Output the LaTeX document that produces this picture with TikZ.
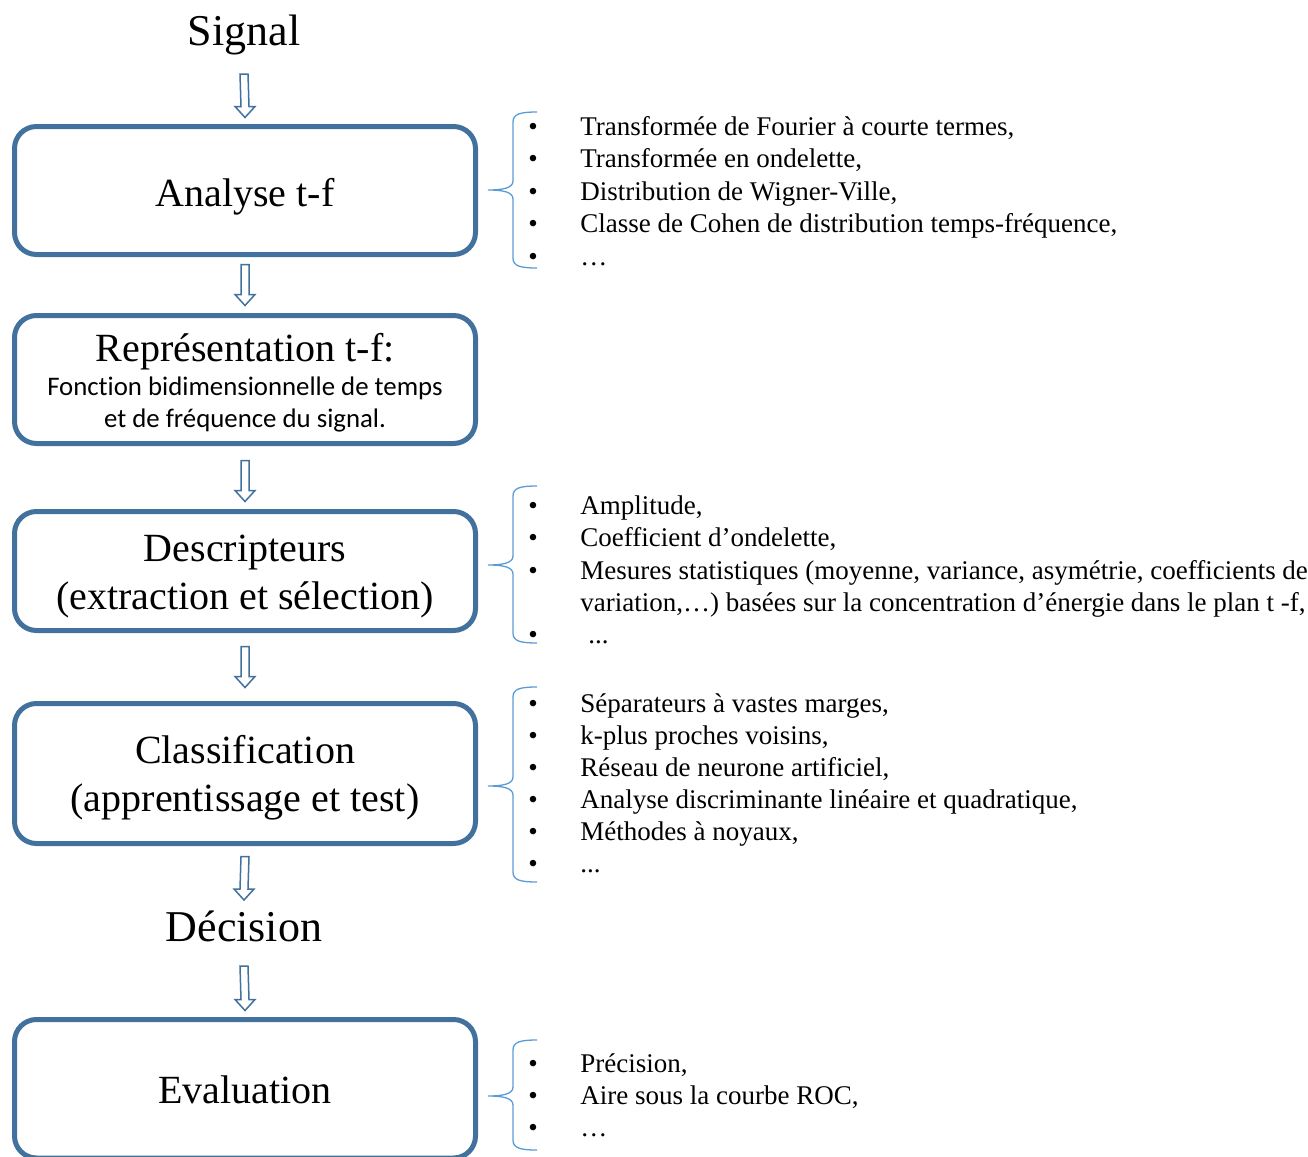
\documentclass[tikz,border=0pt]{standalone}
\usepackage{fontspec}
\setmainfont{Liberation Serif}
\newfontfamily\calibri[Ligatures=NoCommon]{Carlito}
\usetikzlibrary{calc}

\definecolor{cadre}{RGB}{65,113,156}
\definecolor{bleuclair}{RGB}{91,155,213}

\tikzset{
  etape/.style={draw=cadre, line width=2.5pt, rounded corners=11pt,
    minimum width=230.5pt, inner sep=0pt},
  etiq/.style={anchor=base, inner sep=0pt, font=\fontsize{20}{24}\selectfont},
  sous/.style={anchor=base, inner sep=0pt, font=\calibri\fontsize{13.4}{16}\selectfont},
  titre/.style={anchor=base, inner sep=0pt, font=\fontsize{22}{26}\selectfont},
  fleche/.style={draw=cadre, line width=0.75pt, fill=white},
  accolade/.style={draw=bleuclair, line width=0.65pt},
  puce/.style={anchor=base, inner sep=0pt, font=\fontsize{13.5}{16}\selectfont},
  liste/.style={anchor=base west, inner sep=0pt, font=\fontsize{13.5}{16}\selectfont},
}

% hollow block arrow between two nodes (#3, #4 = gaps in px)
\newcommand{\flechebloc}[4]{%
  \draw[fleche] ($(#1)+(-4,#3)$) -- ($(#2)+(-4,-#4-11)$) -- ($(#2)+(-10,-#4-11)$)
    -- ($(#2)+(0,-#4)$) -- ($(#2)+(10,-#4-11)$) -- ($(#2)+(4,-#4-11)$)
    -- ($(#1)+(4,#3)$) -- cycle;}

% curly brace: top, middle, bottom
\newcommand{\accoladeb}[3]{%
  \draw[accolade] (537,#1) .. controls (520,#1) and (513,#1+2) .. (513,#1+10)
    -- (513,#2-9) .. controls (513,#2-2) and (503,#2) .. (488,#2)
    .. controls (503,#2) and (513,#2+2) .. (513,#2+9)
    -- (513,#3-10) .. controls (513,#3-2) and (520,#3) .. (537,#3);}

\begin{document}
\begin{tikzpicture}[x=0.5pt, y=-0.5pt]
  \useasboundingbox (0,0) rectangle (1308,1157);

  % chain of steps
  \node[titre] (sig) at (244,45) {Signal};
  \node[etape, minimum height=64pt] (ana) at (245,190.5) {};
  \node[etape, minimum height=64pt] (rep) at (245,379.5) {};
  \node[etape, minimum height=59.5pt] (des) at (245,571) {};
  \node[etape, minimum height=70pt] (cla) at (245,773.5) {};
  \node[titre] (dec) at (244,941) {Décision};
  \node[etape, minimum height=69.25pt] (eva) at (245,1088.75) {};

  \node[etiq] (ana-t) at ($(ana.center)+(0,16)$) {Analyse t-f};
  \node[etiq] (rep-t) at ($(rep.center)+(0,-18)$) {Représentation t-f:};
  \node[sous] (rep-s1) at ($(rep.center)+(0,15.5)$) {Fonction bidimensionnelle de temps};
  \node[sous] (rep-s2) at ($(rep.center)+(0,47.5)$) {et de fréquence du signal.};
  \node[etiq] (des-t) at ($(des.center)+(0,-9.5)$) {Descripteurs};
  \node[etiq] (des-s) at ($(des.center)+(0,38)$) {(extraction et sélection)};
  \node[etiq] (cla-t) at ($(cla.center)+(0,-10)$) {Classification};
  \node[etiq] (cla-s) at ($(cla.center)+(0,37.5)$) {(apprentissage et test)};
  \node[etiq] (eva-t) at ($(eva.center)+(0,14.25)$) {Evaluation};

  \flechebloc{sig.base}{ana.north}{29}{6.5}
  \flechebloc{ana.south}{rep.north}{7.5}{7.5}
  \flechebloc{rep.south}{des.north}{14.5}{7.5}
  \flechebloc{des.south}{cla.north}{13.5}{13.5}
  \flechebloc{cla.south}{dec.base}{10.5}{41}
  \flechebloc{dec.base}{eva.north}{25}{6.5}

  % braces
  \accoladeb{112}{190}{268}
  \accoladeb{486}{565}{643}
  \accoladeb{687}{786}{882}
  \accoladeb{1040}{1096}{1150}

  % lists
  \foreach \txt [count=\i from 0] in {{Transformée de Fourier à courte termes,},
      {Transformée en ondelette,}, {Distribution de Wigner-Ville,},
      {Classe de Cohen de distribution temps-fréquence,}, {…}} {
    \node[puce] (pa\i) at (533,135+32.5*\i) {•};
    \node[liste] (la\i) at (580,135+32.5*\i) {\txt};
  }

  \foreach \txt [count=\i from 0] in {{Amplitude,}, {Coefficient d’ondelette,},
      {Mesures statistiques (moyenne, variance, asymétrie, coefficients de}} {
    \node[puce] (pb\i) at (533,514+32.5*\i) {•};
    \node[liste] (lb\i) at (580,514+32.5*\i) {\txt};
  }
  \node[liste] (lb3) at (580,611) {variation,…) basées sur la concentration d’énergie dans le plan t -f,};
  \node[puce] (pb4) at (533,643) {•};
  \node[liste] (lb4) at (588,643) {...};

  \foreach \txt [count=\i from 0] in {{Séparateurs à vastes marges,},
      {k-plus proches voisins,}, {Réseau de neurone artificiel,},
      {Analyse discriminante linéaire et quadratique,},
      {Méthodes à noyaux,}} {
    \node[puce] (pc\i) at (533,712+32*\i) {•};
    \node[liste] (lc\i) at (580,712+32*\i) {\txt};
  }
  \node[puce] (pc5) at (533,872) {•};
  \node[liste] (lc5) at (580,872) {...};

  \foreach \txt [count=\i from 0] in {{Précision,}, {Aire sous la courbe ROC,}, {…}} {
    \node[puce] (pd\i) at (533,1072+32*\i) {•};
    \node[liste] (ld\i) at (580,1072+32*\i) {\txt};
  }
\end{tikzpicture}
\end{document}
